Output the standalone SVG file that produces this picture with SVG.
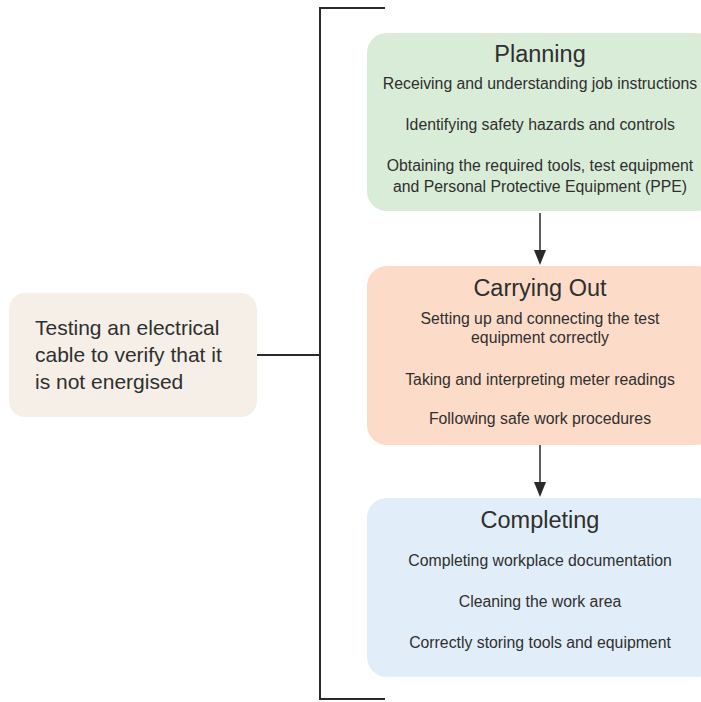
<svg xmlns="http://www.w3.org/2000/svg" width="701" height="702" viewBox="0 0 701 702">
  <style>
    .txt { font-family: "Liberation Sans", Arial, sans-serif; fill: #2f2f2f; }
    .title { font-size: 23.5px; text-anchor: middle; }
    .item { font-size: 15.8px; text-anchor: middle; }
    .main { font-size: 21px; }
    .line { stroke: #2a2a2a; stroke-width: 2; fill: none; }
    .arrow { stroke: #2a2a2a; stroke-width: 1.5; fill: none; }
    .head { fill: #2a2a2a; }
  </style>
  <rect width="701" height="702" fill="#ffffff"/>

  <!-- connectors -->
  <g id="connectors">
    <path class="line" d="M385,8 H320 V699 H385"/>
    <path class="line" d="M257,355 H320"/>
    <line class="arrow" x1="540" y1="213" x2="540" y2="252"/>
    <path class="head" d="M534,250 L546,250 L540,265 Z"/>
    <line class="arrow" x1="540" y1="445" x2="540" y2="484"/>
    <path class="head" d="M534,482 L546,482 L540,497 Z"/>
  </g>

  <!-- topic -->
  <g id="topic">
    <rect x="9" y="293" width="248" height="124" rx="16" fill="#f5efe8"/>
    <text class="txt main" x="35" y="335">Testing an electrical</text>
    <text class="txt main" x="35" y="362">cable to verify that it</text>
    <text class="txt main" x="35" y="389">is not energised</text>
  </g>

  <!-- planning stage -->
  <g id="planning">
    <rect x="367" y="33" width="350" height="178" rx="20" fill="#d9ecd7"/>
    <text class="txt title" x="540" y="62">Planning</text>
    <text class="txt item" x="540" y="89">Receiving and understanding job instructions</text>
    <text class="txt item" x="540" y="130">Identifying safety hazards and controls</text>
    <text class="txt item" x="540" y="171">Obtaining the required tools, test equipment</text>
    <text class="txt item" x="540" y="192">and Personal Protective Equipment (PPE)</text>
  </g>

  <!-- carrying out stage -->
  <g id="carrying-out">
    <rect x="367" y="266" width="350" height="179" rx="20" fill="#fcdcc8"/>
    <text class="txt title" x="540" y="296">Carrying Out</text>
    <text class="txt item" x="540" y="324">Setting up and connecting the test</text>
    <text class="txt item" x="540" y="343">equipment correctly</text>
    <text class="txt item" x="540" y="385">Taking and interpreting meter readings</text>
    <text class="txt item" x="540" y="424">Following safe work procedures</text>
  </g>

  <!-- completing stage -->
  <g id="completing">
    <rect x="367" y="498" width="350" height="179" rx="20" fill="#e1edf8"/>
    <text class="txt title" x="540" y="528">Completing</text>
    <text class="txt item" x="540" y="566">Completing workplace documentation</text>
    <text class="txt item" x="540" y="607">Cleaning the work area</text>
    <text class="txt item" x="540" y="648">Correctly storing tools and equipment</text>
  </g>
</svg>
